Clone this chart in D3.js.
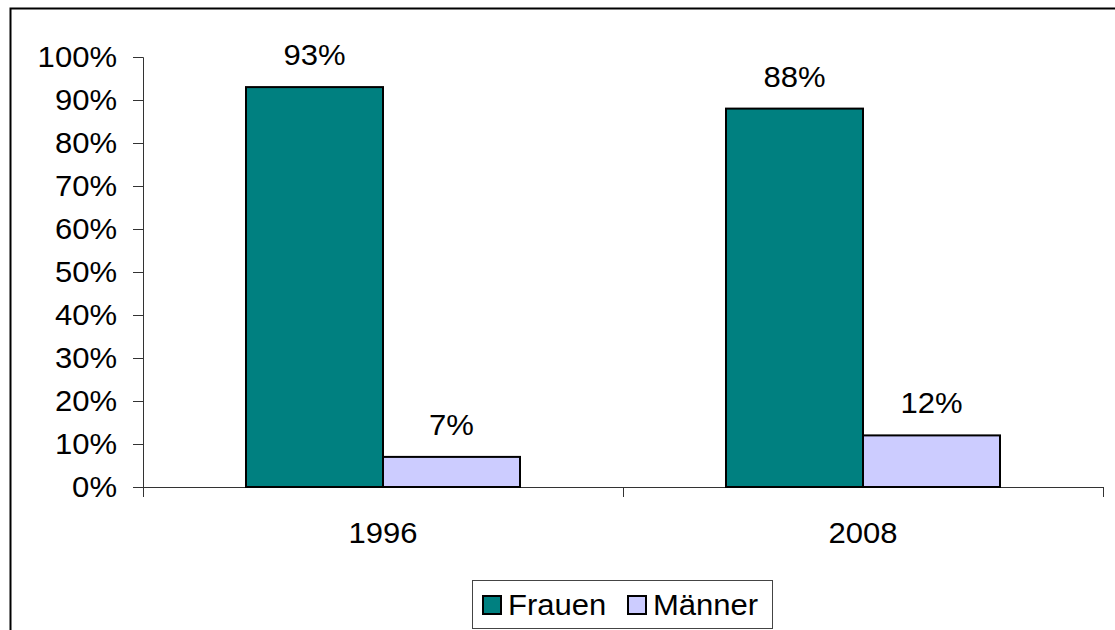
<!DOCTYPE html>
<html><head><meta charset="utf-8">
<script src="https://cdn.jsdelivr.net/npm/d3@7"></script>
<style>body{margin:0;background:#fff;}svg{display:block;font-family:"Liberation Sans",Arial,sans-serif;}</style>
</head><body><svg id="c" width="1115" height="630"></svg>
<script>
const categories = ["1996", "2008"];
const seriesNames = ["Frauen", "Männer"];
const frauen = [93, 88];
const maenner = [7, 12];
const yTicks = [0,10,20,30,40,50,60,70,80,90,100];
const colors = ["#008080", "#CCCCFF"];

const svg = d3.select("#c");
const fs = 29;
// outer frame
svg.append("path").attr("d","M10.5,640 V8.5 H1125").attr("fill","none").attr("stroke","#000").attr("stroke-width",2);

const x0 = 143, x1 = 1103, yTop = 57, yBot = 487;
const x = d3.scaleBand().domain(categories).range([x0, x1]);
const xs = d3.scaleBand().domain(seriesNames).range([0, 274]);
const y = d3.scaleLinear().domain([0,100]).range([yBot, yTop]);

const yAxis = d3.axisLeft(y).tickValues(yTicks).tickFormat(d=>d+"%").tickSize(10).tickPadding(16);
const gy = svg.append("g").attr("transform",`translate(${x0},0)`).call(yAxis);
gy.select(".domain").attr("stroke","#333").attr("d",`M-10,${yTop}.5H0.5V${yBot}.5`);
gy.selectAll(".tick line").attr("stroke","#333");
gy.selectAll("text").attr("font-size",fs).attr("fill","#000").attr("font-family","Liberation Sans, Arial, sans-serif");

// x axis
const gx = svg.append("g").attr("transform",`translate(0,${yBot})`);
gx.append("line").attr("x1",x0-10).attr("x2",x1).attr("y1",0.5).attr("y2",0.5).attr("stroke","#333");
const xt = [x0, x0 + x.bandwidth(), x1];
gx.selectAll("line.t").data(xt).enter().append("line").attr("class","t")
  .attr("x1",d=>d+0.5).attr("x2",d=>d+0.5).attr("y1",0).attr("y2",10).attr("stroke","#333");
gx.selectAll("text").data(categories).enter().append("text")
  .attr("x",d=>x(d)+x.bandwidth()/2).attr("y",56).attr("text-anchor","middle")
  .attr("font-size",fs).text(d=>d);

const data = [];
categories.forEach((c,i)=>{
  data.push({c, s:"Frauen", v:frauen[i], col:colors[0]});
  data.push({c, s:"Männer", v:maenner[i], col:colors[1]});
});
const off = (x.bandwidth()-274)/2;
svg.selectAll("rect.bar").data(data).enter().append("rect").attr("class","bar")
  .attr("x",d=>x(d.c)+off+xs(d.s)).attr("width",xs.bandwidth())
  .attr("y",d=>y(d.v)).attr("height",d=>yBot-y(d.v))
  .attr("fill",d=>d.col).attr("stroke","#000").attr("stroke-width",2);
svg.selectAll("text.lbl").data(data).enter().append("text").attr("class","lbl")
  .attr("x",d=>x(d.c)+off+xs(d.s)+xs.bandwidth()/2).attr("y",d=>y(d.v)-22)
  .attr("text-anchor","middle").attr("font-size",fs).text(d=>d.v+"%");

// legend
const lg = svg.append("g");
lg.append("rect").attr("x",472.5).attr("y",580.5).attr("width",300).attr("height",48)
  .attr("fill","#fff").attr("stroke","#444");
const lx = [482, 627];
seriesNames.forEach((s,i)=>{
  lg.append("rect").attr("x",lx[i]+1).attr("y",596).attr("width",18).attr("height",18)
    .attr("fill",colors[i]).attr("stroke","#000").attr("stroke-width",2);
  lg.append("text").attr("x",lx[i]+26).attr("y",615).attr("font-size",fs).text(s);
});

// slight horizontal stretch to match reference glyph widths
svg.selectAll("text").each(function(){
  const l = this.getComputedTextLength();
  d3.select(this).attr("textLength", (l*1.07).toFixed(1)).attr("lengthAdjust","spacingAndGlyphs");
});
</script></body></html>
